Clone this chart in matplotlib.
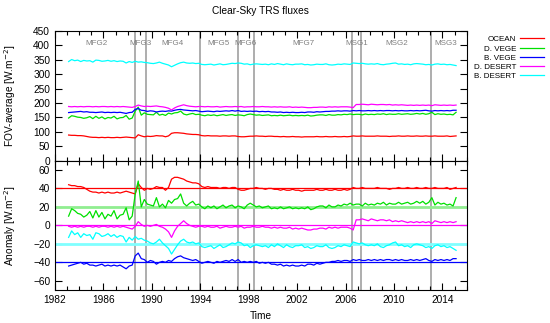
import numpy as np
import matplotlib
matplotlib.use('Agg')
import matplotlib.pyplot as plt
from matplotlib.ticker import MultipleLocator, FixedLocator

plt.rcParams['font.family'] = ['Liberation Sans', 'DejaVu Sans']

# quarterly time axis, 1983.1 -> 2015.1
time = 1983.125 + 0.25 * np.arange(129)

names = ['OCEAN', 'D. VEGE', 'B. VEGE', 'D. DESERT', 'B. DESERT']
colors = ['#ff0000', '#00e000', '#0000ff', '#ff00ff', '#00ffff']
offsets = [40, 20, -40, 0, -20]          # anomaly panel offsets
base = [85, 158, 171, 189, 337]          # mean FOV-average level

anom_ocean = [
    44, 43, 43, 42,  42, 41, 39, 37,  36, 36, 35, 36,  35, 36, 35, 35,
    36, 35, 36, 37,  36, 35, 34, 45,  41, 38, 40, 39,  40, 42, 41, 41,
    38, 41, 50, 52,  52, 51, 50, 48,  47, 46, 46, 45,  42, 41, 42, 41,
    41, 41, 40, 41,  41, 40, 41, 41,  39, 38, 38, 39,  40, 40, 41, 40,
    40, 39, 40, 40,  39, 39, 38, 39,  38, 38, 39, 38,  38, 37, 38, 38,
    38, 38, 39, 38,  38, 39, 38, 38,  39, 38, 38, 39,  38, 39, 41, 40,
    40, 41, 40, 40,  40, 40, 41, 40,  40, 40, 39, 40,  40, 41, 40, 40,
    41, 40, 40, 41,  40, 40, 41, 40,  40, 41, 40, 40,  40, 41, 39, 40,
    41]
anom_dvege = [
    10, 18, 16, 13,  12, 9, 11, 15,  8, 16, 9, 14,  7, 12, 10, 16,
    7, 11, 12, 19,  6, 10, 34, 48,  20, 28, 23, 22,  21, 30, 20, 23,
    19, 27, 24, 28,  29, 34, 24, 21,  24, 26, 22, 23,  20, 18, 21, 19,
    21, 18, 20, 22,  19, 21, 22, 19,  21, 20, 18, 22,  24, 22, 20, 21,
    19, 20, 21, 18,  19, 18, 20, 18,  19, 20, 18, 19,  18, 19, 18, 20,
    17, 18, 20, 21,  21, 19, 22, 20,  20, 22, 21, 23,  22, 24, 22, 23,
    23, 21, 24, 22,  23, 22, 24, 23,  25, 22, 24, 23,  23, 25, 23, 24,
    25, 23, 24, 26,  24, 26, 23, 25,  30, 22, 25, 23,  24, 22, 23, 21,
    30]
anom_bvege = [
    -44, -43, -42, -41,  -40, -42, -41, -43,  -43, -44, -43, -42,  -44, -43, -44, -43,
    -44, -43, -45, -47,  -44, -43, -33, -30,  -36, -37, -40, -38,  -39, -42, -40, -39,
    -40, -38, -39, -36,  -34, -33, -35, -36,  -37, -38, -37, -39,  -41, -40, -39, -40,
    -41, -39, -40, -39,  -38, -39, -37, -39,  -37, -40, -39, -40,  -39, -40, -39, -41,
    -40, -41, -40, -42,  -42, -43, -42, -44,  -43, -44, -43, -44,  -44, -43, -44, -42,
    -42, -43, -41, -42,  -41, -40, -40, -39,  -39, -38, -39, -38,  -38, -39, -37, -38,
    -37, -38, -38, -37,  -38, -37, -38, -37,  -38, -37, -37, -38,  -37, -38, -37, -38,
    -38, -37, -38, -37,  -38, -37, -36, -38,  -39, -37, -38, -37,  -38, -37, -38, -36,
    -36]
anom_ddesert = [
    -1, -2, -1, -2,  -1, -2, -1, -1,  -2, -1, -2, -1,  -1, -2, -1, -2,
    -1, -2, -1, -2,  -3, -4, -1, 4,  1, -1, 0, -1,  0, 1, -1, -2,
    -4, -7, -13, -6,  -1, 2, 5, 2,  0, -1, -2, -1,  -1, -2, -1, -2,
    -2, -1, -3, -2,  -1, -2, -2, -1,  -2, -1, -3, -2,  -2, -1, -2, -2,
    -1, -2, -2, -3,  -2, -3, -2, -3,  -3, -2, -4, -3,  -4, -3, -4, -5,
    -5, -4, -4, -3,  -3, -4, -2, -3,  -2, -3, -2, -2,  -2, -3, -5, 6,
    6, 7, 6, 5,  7, 6, 5, 6,  6, 5, 6, 4,  5, 4, 5, 4,
    3, 4, 3, 4,  3, 4, 3, 4,  2, 5, 4, 3,  4, 3, 4, 3,
    4]
anom_bdesert = [
    -13, -6, -10, -8,  -13, -9, -11, -10,  -15, -8, -9, -12,  -11, -9, -12, -10,
    -13, -11, -12, -18,  -13, -16, -12, -15,  -14, -16, -17, -19,  -20, -18, -15, -19,
    -22, -25, -31, -26,  -21, -17, -15, -18,  -19, -18, -20, -19,  -23, -24, -23, -22,
    -25, -23, -21, -24,  -23, -21, -19, -20,  -18, -19, -22, -21,  -24, -22, -21, -22,
    -23, -22, -24, -21,  -23, -20, -22, -24,  -21, -23, -24, -22,  -22, -21, -24, -23,
    -25, -24, -22, -23,  -23, -21, -24, -25,  -24, -22, -23, -21,  -22, -23, -18, -19,
    -20, -19, -21, -22,  -21, -22, -20, -23,  -24, -22, -21, -19,  -18, -22, -21, -23,
    -22, -24, -21, -20,  -21, -22, -24, -23,  -25, -22, -21, -23,  -22, -24, -23, -25,
    -27]

anoms = [anom_ocean, anom_dvege, anom_bvege, anom_ddesert, anom_bdesert]

# satellite change dates and labels
changes = [1988.6, 1989.5, 1994.0, 1997.1, 1998.4, 2006.55, 2007.3, 2013.05]
sat_names = ['MFG2', 'MFG3', 'MFG4', 'MFG5', 'MFG6', 'MFG7', 'MSG1', 'MSG2', 'MSG3']
sat_pos = [1985.4, 1989.05, 1991.7, 1995.5, 1997.75, 2002.5, 2006.95, 2010.2, 2014.3]
year_ticks = np.arange(1982, 2015, 4)

fig = plt.figure(figsize=(5.5, 3.23), dpi=100)
ax1 = fig.add_axes([0.1, 0.5025, 0.7485, 0.4015])
ax2 = fig.add_axes([0.1, 0.102, 0.7485, 0.4005])

fs = 7.3
for ax in (ax1, ax2):
    ax.set_xlim(1982, 2016)
    ax.xaxis.set_major_locator(FixedLocator(year_ticks))
    ax.xaxis.set_minor_locator(MultipleLocator(1))
    ax.tick_params(which='both', direction='in', top=True, right=True,
                   labelsize=fs, width=0.8)
    ax.tick_params(which='major', length=5)
    ax.tick_params(which='minor', length=3)
    for c in changes:
        ax.axvline(c, color='#a0a0a0', lw=1.2, zorder=1)
    for s in ax.spines.values():
        s.set_linewidth(0.8)
    ax.yaxis.set_label_coords(-0.09, 0.5)

# top panel
for nm, col, off, b, a in zip(names, colors, offsets, base, anoms):
    ax1.plot(time, b + np.asarray(a) - off, color=col, lw=0.9, label=nm, zorder=3)
ax1.set_ylim(0, 450)
ax1.yaxis.set_major_locator(MultipleLocator(50))
ax1.tick_params(labelbottom=False)
ax1.set_ylabel('FOV-average [W.m$^{-2}$]', fontsize=fs)
for nm, xp in zip(sat_names, sat_pos):
    ax1.text(xp, 408, nm, ha='center', va='center', fontsize=5.8, color='#808080')

# bottom panel
ref_styles = {40: ('#ff0000', 0.9), 20: ('#90ee90', 2.0), 0: ('#ff00ff', 0.9),
              -20: ('#80ffff', 2.0), -40: ('#0000ff', 0.9)}
for off, (c, lw) in ref_styles.items():
    ax2.axhline(off, color=c, lw=lw, zorder=2)
for col, a in zip(colors, anoms):
    ax2.plot(time, a, color=col, lw=0.9, zorder=3)
ax2.set_ylim(-70, 70)
ax2.yaxis.set_major_locator(MultipleLocator(20))
ax2.set_ylabel('Anomaly [W.m$^{-2}$]', fontsize=fs)

fig.text(0.474, 0.965, 'Clear-Sky TRS fluxes', ha='center', va='center', fontsize=fs)
fig.text(0.474, 0.022, 'Time', ha='center', va='center', fontsize=fs)

fig.legend(*ax1.get_legend_handles_labels(), loc='upper right',
           bbox_to_anchor=(1.003, 0.912), frameon=False, markerfirst=False,
           fontsize=5.8, handlelength=3.0, labelspacing=0.2, handletextpad=0.5)

fig.savefig('out.png', dpi=100)
